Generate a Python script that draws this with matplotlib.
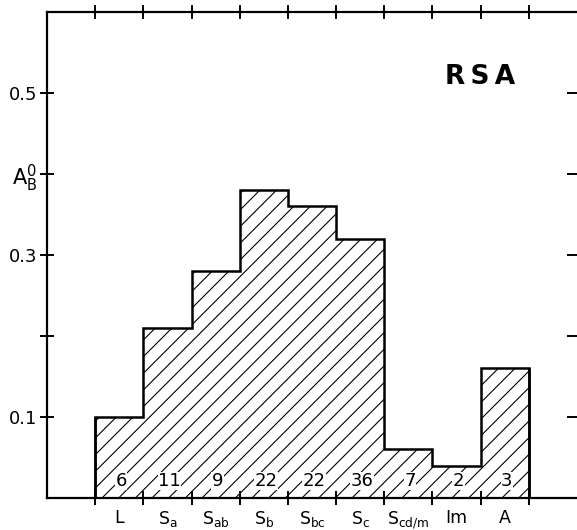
import matplotlib
matplotlib.use("Agg")
import matplotlib.pyplot as plt
import numpy as np

categories = ["L", "S$_a$", "S$_{ab}$", "S$_b$", "S$_{bc}$", "S$_c$", "S$_{cd/m}$", "Im", "A"]
values = [0.10, 0.21, 0.28, 0.38, 0.36, 0.32, 0.06, 0.04, 0.16]
counts = [6, 11, 9, 22, 22, 36, 7, 2, 3]
yticks = [0.1, 0.2, 0.3, 0.4, 0.5]
ylabels = ["0.1", "", "0.3", "$A_B^0$", "0.5"]

plt.rcParams['font.family'] = ['DejaVu Sans']
plt.rcParams['mathtext.default'] = 'regular'
plt.rcParams['hatch.linewidth'] = 0.8

fig = plt.figure(figsize=(5.77, 5.30), dpi=100)
ax = fig.add_axes([47/577, 1-498/530, 1-47/577, (498-12)/530])

edges = np.arange(1, len(values) + 2)
ax.stairs(values, edges, fill=True, facecolor='white', edgecolor='black',
          hatch='//', linewidth=0)
ax.stairs(values, edges, fill=False, color='black', linewidth=1.8, baseline=0)
ax.vlines([edges[0], edges[-1]], 0, [values[0], values[-1]], color='black', linewidth=1.8)

centers = edges[:-1] + 0.5
for c, n in zip(centers, counts):
    ax.text(c + 0.04, 0.021, str(n), ha='center', va='center', fontsize=13,
            bbox=dict(facecolor='white', edgecolor='none', pad=0.3))

ax.text(8.98, 0.52, "R\u2009S\u2009A", ha='center', va='center', fontsize=19, fontweight='bold')

ax.set_xlim(0, 11)
ax.set_ylim(0, 0.6)

ax.set_xticks(list(range(1, 11)))
ax.set_xticklabels([])
ax.set_xticks(centers, minor=True)
ax.set_xticklabels(categories, minor=True, fontsize=12.5)
ax.tick_params(axis='x', which='minor', length=0, pad=8)
ax.tick_params(axis='x', which='major', direction='inout', length=10, width=1.4,
               top=True, bottom=True)

ax.set_yticks(yticks)
ax.set_yticklabels(ylabels, fontsize=13)
ax.get_yticklabels()[3].set_fontsize(15)
ax.tick_params(axis='y', which='major', direction='inout', length=10, width=1.4,
               left=True, right=False, pad=2)

ax2 = ax.twinx()
ax2.set_ylim(0, 0.6)
ax2.set_yticks(yticks)
ax2.set_yticklabels([])
ax2.tick_params(axis='y', direction='in', length=7, width=1.4)
for s in ax2.spines.values():
    s.set_visible(False)

for name in ['left', 'top', 'bottom']:
    ax.spines[name].set_linewidth(1.6)
ax.spines['right'].set_visible(False)

fig.savefig("out.png", dpi=100)
